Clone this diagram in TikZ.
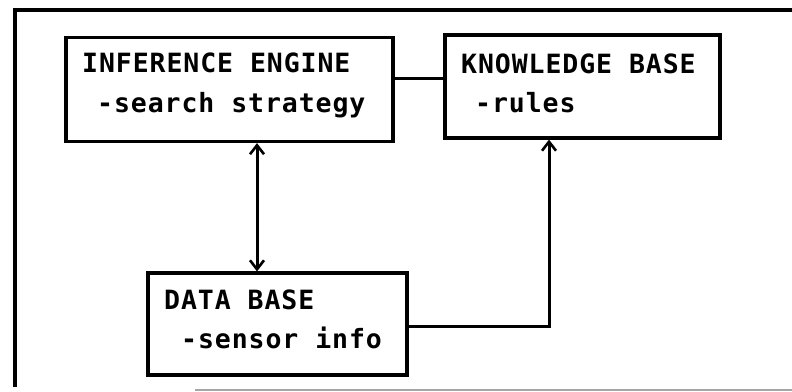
\documentclass[tikz,border=0pt]{standalone}
\usepackage{fontspec}
\usetikzlibrary{arrows.meta}
\newfontfamily\plotfont[LetterSpace=3.5]{DejaVu Sans Mono}
\begin{document}
\begin{tikzpicture}[x=1pt,y=-1pt,
  box/.style={draw, line width=3.2pt, rectangle, inner sep=0pt},
  lbl/.style={inner sep=0pt, anchor=base west, font=\plotfont\bfseries\fontsize{26.5}{30}\selectfont},
  wire/.style={line width=3pt},
  arr/.style={wire, -{Straight Barb[length=9pt,width=14pt,line width=2.6pt]}},
  darr/.style={wire, {Straight Barb[length=9pt,width=14pt,line width=2.6pt]}-{Straight Barb[length=9pt,width=14pt,line width=2.6pt]}},
  frame/.style={line width=3.6pt}]
  \useasboundingbox (0,0) rectangle (792,391);
  % outer frame
  \draw[frame] (15,387) -- (15,10) -- (792,10);
  \draw[line width=1.4pt, black!35] (195,390) -- (792,390);
  % boxes
  \node[box, minimum width=327pt, minimum height=104pt] (IE) at (229.5,89.5) {};
  \node[box, minimum width=275pt, minimum height=103pt] (KB) at (582.5,86.5) {};
  \node[box, minimum width=259pt, minimum height=102pt] (DB) at (277.5,324) {};
  % labels
  \node[lbl] (ieA) at (82,72) {INFERENCE ENGINE};
  \node[lbl] (ieB) at (97,112) {-search strategy};
  \node[lbl] (kbA) at (461,73) {KNOWLEDGE BASE};
  \node[lbl] (kbB) at (475,112) {-rules};
  \node[lbl] (dbA) at (164,309) {DATA BASE};
  \node[lbl] (dbB) at (181,348) {-sensor info};
  % connectors
  \coordinate (link) at (0,78);
  \coordinate (ied) at (257,0);
  \coordinate (turn) at (549,326);
  \draw[wire] (IE.east |- link) -- (KB.west |- link);
  \draw[darr] (IE.south -| ied) -- (DB.north -| ied);
  \draw[arr] (DB.east |- turn) -- (turn) -- (KB.south -| turn);
\end{tikzpicture}
\end{document}
